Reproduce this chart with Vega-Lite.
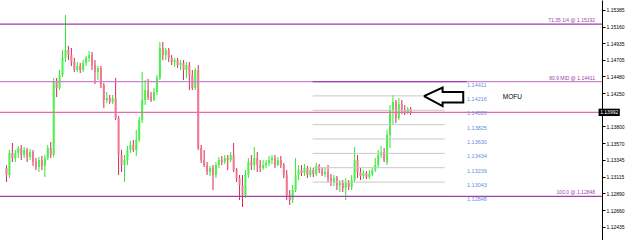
{
  "$schema": "https://vega.github.io/schema/vega-lite/v6.json",
  "width": 602,
  "height": 240,
  "autosize": {"type": "none"},
  "padding": {"left": 0, "top": 0, "right": 23, "bottom": 0},
  "background": "white",
  "config": {
    "view": {"stroke": null},
    "axisX": {"disable": true},
    "axisY": {"grid": false, "domainColor": "#000000", "domainWidth": 1, "tickColor": "#000000", "tickSize": 3, "labelFont": "Liberation Sans", "labelFontSize": 5, "labelColor": "#000000", "labelPadding": 1, "labelOverlap": false, "labelFlush": false, "title": null}
  },
  "datasets": {
    "candles": [
      {"t":0.5,"o":1.13235,"h":1.13275,"l":1.13044,"c":1.13139},
      {"t":1.5,"o":1.13139,"h":1.13479,"l":1.13098,"c":1.13439},
      {"t":2.5,"o":1.13439,"h":1.13575,"l":1.13316,"c":1.13371},
      {"t":3.5,"o":1.13371,"h":1.13479,"l":1.13316,"c":1.13439},
      {"t":4.5,"o":1.13439,"h":1.13534,"l":1.13371,"c":1.13507},
      {"t":5.5,"o":1.13507,"h":1.13548,"l":1.13343,"c":1.13411},
      {"t":6.5,"o":1.13411,"h":1.13520,"l":1.13371,"c":1.13479},
      {"t":7.5,"o":1.13479,"h":1.13507,"l":1.13316,"c":1.13384},
      {"t":8.5,"o":1.13384,"h":1.13493,"l":1.13343,"c":1.13452},
      {"t":9.5,"o":1.13452,"h":1.13479,"l":1.13262,"c":1.13316},
      {"t":10.5,"o":1.13316,"h":1.13371,"l":1.13207,"c":1.13248},
      {"t":11.5,"o":1.13248,"h":1.13384,"l":1.13180,"c":1.13343},
      {"t":12.5,"o":1.13343,"h":1.13398,"l":1.13207,"c":1.13262},
      {"t":13.5,"o":1.13262,"h":1.13411,"l":1.13112,"c":1.13371},
      {"t":14.5,"o":1.13371,"h":1.13548,"l":1.13343,"c":1.13507},
      {"t":15.5,"o":1.13507,"h":1.13588,"l":1.13371,"c":1.13411},
      {"t":16.5,"o":1.13411,"h":1.14459,"l":1.13384,"c":1.14405},
      {"t":17.5,"o":1.14405,"h":1.14459,"l":1.14201,"c":1.14323},
      {"t":18.5,"o":1.14323,"h":1.14568,"l":1.14296,"c":1.14500},
      {"t":19.5,"o":1.14500,"h":1.14840,"l":1.14473,"c":1.14732},
      {"t":20.5,"o":1.14732,"h":1.15317,"l":1.14677,"c":1.14840},
      {"t":21.5,"o":1.14840,"h":1.14895,"l":1.14704,"c":1.14772},
      {"t":22.5,"o":1.14772,"h":1.14868,"l":1.14623,"c":1.14677},
      {"t":23.5,"o":1.14677,"h":1.14732,"l":1.14541,"c":1.14568},
      {"t":24.5,"o":1.14568,"h":1.14677,"l":1.14541,"c":1.14623},
      {"t":25.5,"o":1.14623,"h":1.14664,"l":1.14527,"c":1.14568},
      {"t":26.5,"o":1.14568,"h":1.14704,"l":1.14541,"c":1.14664},
      {"t":27.5,"o":1.14664,"h":1.14759,"l":1.14623,"c":1.14732},
      {"t":28.5,"o":1.14732,"h":1.14827,"l":1.14677,"c":1.14772},
      {"t":29.5,"o":1.14772,"h":1.14813,"l":1.14568,"c":1.14636},
      {"t":30.5,"o":1.14636,"h":1.14704,"l":1.14378,"c":1.14541},
      {"t":31.5,"o":1.14541,"h":1.14623,"l":1.14432,"c":1.14596},
      {"t":32.5,"o":1.14596,"h":1.14623,"l":1.14323,"c":1.14364},
      {"t":33.5,"o":1.14364,"h":1.14391,"l":1.14051,"c":1.14160},
      {"t":34.5,"o":1.14160,"h":1.14269,"l":1.14119,"c":1.14187},
      {"t":35.5,"o":1.14187,"h":1.14228,"l":1.14106,"c":1.14133},
      {"t":36.5,"o":1.14133,"h":1.14228,"l":1.14106,"c":1.14187},
      {"t":37.5,"o":1.14187,"h":1.14459,"l":1.13888,"c":1.13915},
      {"t":38.5,"o":1.13915,"h":1.13942,"l":1.13139,"c":1.13411},
      {"t":39.5,"o":1.13411,"h":1.13479,"l":1.13180,"c":1.13275},
      {"t":40.5,"o":1.13275,"h":1.13411,"l":1.13044,"c":1.13343},
      {"t":41.5,"o":1.13343,"h":1.13534,"l":1.13275,"c":1.13479},
      {"t":42.5,"o":1.13479,"h":1.13602,"l":1.13439,"c":1.13548},
      {"t":43.5,"o":1.13548,"h":1.13616,"l":1.13452,"c":1.13479},
      {"t":44.5,"o":1.13479,"h":1.13752,"l":1.13398,"c":1.13616},
      {"t":45.5,"o":1.13616,"h":1.13929,"l":1.13588,"c":1.13888},
      {"t":46.5,"o":1.13888,"h":1.14541,"l":1.13847,"c":1.14160},
      {"t":47.5,"o":1.14160,"h":1.14432,"l":1.14092,"c":1.14296},
      {"t":48.5,"o":1.14296,"h":1.14446,"l":1.14160,"c":1.14201},
      {"t":49.5,"o":1.14201,"h":1.14269,"l":1.14133,"c":1.14160},
      {"t":50.5,"o":1.14160,"h":1.14323,"l":1.14146,"c":1.14269},
      {"t":51.5,"o":1.14269,"h":1.14500,"l":1.14228,"c":1.14459},
      {"t":52.5,"o":1.14459,"h":1.14949,"l":1.14432,"c":1.14868},
      {"t":53.5,"o":1.14868,"h":1.14949,"l":1.14704,"c":1.14772},
      {"t":54.5,"o":1.14772,"h":1.14868,"l":1.14704,"c":1.14840},
      {"t":55.5,"o":1.14840,"h":1.14868,"l":1.14677,"c":1.14732},
      {"t":56.5,"o":1.14732,"h":1.14772,"l":1.14636,"c":1.14677},
      {"t":57.5,"o":1.14677,"h":1.14732,"l":1.14609,"c":1.14704},
      {"t":58.5,"o":1.14704,"h":1.14732,"l":1.14596,"c":1.14636},
      {"t":59.5,"o":1.14636,"h":1.14704,"l":1.14568,"c":1.14664},
      {"t":60.5,"o":1.14664,"h":1.14704,"l":1.14432,"c":1.14568},
      {"t":61.5,"o":1.14568,"h":1.14677,"l":1.14459,"c":1.14636},
      {"t":62.5,"o":1.14636,"h":1.14677,"l":1.14296,"c":1.14500},
      {"t":63.5,"o":1.14500,"h":1.14568,"l":1.14296,"c":1.14323},
      {"t":64.5,"o":1.14323,"h":1.14596,"l":1.14296,"c":1.14568},
      {"t":65.5,"o":1.14568,"h":1.14636,"l":1.13479,"c":1.13507},
      {"t":66.5,"o":1.13507,"h":1.13548,"l":1.13303,"c":1.13343},
      {"t":67.5,"o":1.13343,"h":1.13479,"l":1.13248,"c":1.13275},
      {"t":68.5,"o":1.13275,"h":1.13316,"l":1.13139,"c":1.13180},
      {"t":69.5,"o":1.13180,"h":1.13262,"l":1.13126,"c":1.13235},
      {"t":70.5,"o":1.13235,"h":1.13275,"l":1.12935,"c":1.13139},
      {"t":71.5,"o":1.13139,"h":1.13316,"l":1.13098,"c":1.13275},
      {"t":72.5,"o":1.13275,"h":1.13384,"l":1.13235,"c":1.13343},
      {"t":73.5,"o":1.13343,"h":1.13398,"l":1.13275,"c":1.13316},
      {"t":74.5,"o":1.13316,"h":1.13411,"l":1.13289,"c":1.13371},
      {"t":75.5,"o":1.13371,"h":1.13411,"l":1.13207,"c":1.13343},
      {"t":76.5,"o":1.13343,"h":1.13452,"l":1.13316,"c":1.13411},
      {"t":77.5,"o":1.13411,"h":1.13575,"l":1.13180,"c":1.13207},
      {"t":78.5,"o":1.13207,"h":1.13235,"l":1.13044,"c":1.13098},
      {"t":79.5,"o":1.13098,"h":1.13139,"l":1.12799,"c":1.13003},
      {"t":80.5,"o":1.13003,"h":1.13139,"l":1.12704,"c":1.12867},
      {"t":81.5,"o":1.12867,"h":1.13207,"l":1.12826,"c":1.13139},
      {"t":82.5,"o":1.13139,"h":1.13371,"l":1.13098,"c":1.13316},
      {"t":83.5,"o":1.13316,"h":1.13411,"l":1.13207,"c":1.13275},
      {"t":84.5,"o":1.13275,"h":1.13520,"l":1.13207,"c":1.13371},
      {"t":85.5,"o":1.13371,"h":1.13452,"l":1.13180,"c":1.13275},
      {"t":86.5,"o":1.13275,"h":1.13343,"l":1.13180,"c":1.13235},
      {"t":87.5,"o":1.13235,"h":1.13343,"l":1.13207,"c":1.13275},
      {"t":88.5,"o":1.13275,"h":1.13343,"l":1.13235,"c":1.13303},
      {"t":89.5,"o":1.13303,"h":1.13398,"l":1.13262,"c":1.13343},
      {"t":90.5,"o":1.13343,"h":1.13411,"l":1.13289,"c":1.13371},
      {"t":91.5,"o":1.13371,"h":1.13411,"l":1.13235,"c":1.13275},
      {"t":92.5,"o":1.13275,"h":1.13384,"l":1.13262,"c":1.13343},
      {"t":93.5,"o":1.13343,"h":1.13398,"l":1.13235,"c":1.13275},
      {"t":94.5,"o":1.13275,"h":1.13303,"l":1.13098,"c":1.13139},
      {"t":95.5,"o":1.13139,"h":1.13207,"l":1.12799,"c":1.12867},
      {"t":96.5,"o":1.12867,"h":1.12935,"l":1.12731,"c":1.12799},
      {"t":97.5,"o":1.12799,"h":1.13003,"l":1.12758,"c":1.12935},
      {"t":98.5,"o":1.12935,"h":1.13371,"l":1.12908,"c":1.13139},
      {"t":99.5,"o":1.13139,"h":1.13275,"l":1.13071,"c":1.13207},
      {"t":100.5,"o":1.13207,"h":1.13275,"l":1.13126,"c":1.13166},
      {"t":101.5,"o":1.13166,"h":1.13289,"l":1.13126,"c":1.13235},
      {"t":102.5,"o":1.13235,"h":1.13262,"l":1.13098,"c":1.13139},
      {"t":103.5,"o":1.13139,"h":1.13248,"l":1.13112,"c":1.13207},
      {"t":104.5,"o":1.13207,"h":1.13235,"l":1.13112,"c":1.13153},
      {"t":105.5,"o":1.13153,"h":1.13303,"l":1.13126,"c":1.13262},
      {"t":106.5,"o":1.13262,"h":1.13289,"l":1.13166,"c":1.13207},
      {"t":107.5,"o":1.13207,"h":1.13248,"l":1.13126,"c":1.13153},
      {"t":108.5,"o":1.13153,"h":1.13235,"l":1.13112,"c":1.13180},
      {"t":109.5,"o":1.13180,"h":1.13275,"l":1.13044,"c":1.13098},
      {"t":110.5,"o":1.13098,"h":1.13153,"l":1.12990,"c":1.13044},
      {"t":111.5,"o":1.13044,"h":1.13139,"l":1.12990,"c":1.13098},
      {"t":112.5,"o":1.13098,"h":1.13126,"l":1.12935,"c":1.13003},
      {"t":113.5,"o":1.13003,"h":1.13071,"l":1.12908,"c":1.13030},
      {"t":114.5,"o":1.13030,"h":1.13071,"l":1.12908,"c":1.12962},
      {"t":115.5,"o":1.12962,"h":1.13098,"l":1.12799,"c":1.13030},
      {"t":116.5,"o":1.13030,"h":1.13071,"l":1.12935,"c":1.12976},
      {"t":117.5,"o":1.12976,"h":1.13139,"l":1.12935,"c":1.13071},
      {"t":118.5,"o":1.13071,"h":1.13520,"l":1.13044,"c":1.13343},
      {"t":119.5,"o":1.13343,"h":1.13411,"l":1.13098,"c":1.13180},
      {"t":120.5,"o":1.13180,"h":1.13235,"l":1.13071,"c":1.13126},
      {"t":121.5,"o":1.13126,"h":1.13207,"l":1.13085,"c":1.13166},
      {"t":122.5,"o":1.13166,"h":1.13194,"l":1.13085,"c":1.13112},
      {"t":123.5,"o":1.13112,"h":1.13207,"l":1.13085,"c":1.13153},
      {"t":124.5,"o":1.13153,"h":1.13235,"l":1.13126,"c":1.13207},
      {"t":125.5,"o":1.13207,"h":1.13371,"l":1.13180,"c":1.13275},
      {"t":126.5,"o":1.13275,"h":1.13479,"l":1.13235,"c":1.13411},
      {"t":127.5,"o":1.13411,"h":1.13534,"l":1.13371,"c":1.13452},
      {"t":128.5,"o":1.13452,"h":1.13507,"l":1.13316,"c":1.13343},
      {"t":129.5,"o":1.13316,"h":1.13752,"l":1.13275,"c":1.13684},
      {"t":130.5,"o":1.13684,"h":1.14092,"l":1.13507,"c":1.14024},
      {"t":131.5,"o":1.14024,"h":1.14228,"l":1.13820,"c":1.14133},
      {"t":132.5,"o":1.14133,"h":1.14160,"l":1.13847,"c":1.13915},
      {"t":133.5,"o":1.13915,"h":1.14187,"l":1.13888,"c":1.14106},
      {"t":134.5,"o":1.14106,"h":1.14160,"l":1.13969,"c":1.14024},
      {"t":135.5,"o":1.14024,"h":1.14092,"l":1.13956,"c":1.13997},
      {"t":136.5,"o":1.13997,"h":1.14065,"l":1.13969,"c":1.14038},
      {"t":137.5,"o":1.14038,"h":1.14065,"l":1.13956,"c":1.13992}
    ],
    "levels": [
      {"name": "71.35 1/4", "p": 1.15192, "label": "71.35 1/4 @ 1.15192"},
      {"name": "80.9 MID", "p": 1.14411, "label": "80.9 MID @ 1.14411"},
      {"name": "100.0", "p": 1.12848, "label": "100.0 @ 1.12848"},
      {"name": "price", "p": 1.13992, "label": ""}
    ],
    "fib": [
      {"p": 1.14411}, {"p": 1.14216}, {"p": 1.14020}, {"p": 1.13825}, {"p": 1.13630},
      {"p": 1.13434}, {"p": 1.13239}, {"p": 1.13043}, {"p": 1.12848}
    ],
    "arrow": [
      {"k": 0, "t": 142.0, "p": 1.14214},
      {"k": 1, "t": 148.33, "p": 1.14330},
      {"k": 2, "t": 148.33, "p": 1.14269},
      {"k": 3, "t": 155.33, "p": 1.14269},
      {"k": 4, "t": 155.33, "p": 1.14126},
      {"k": 5, "t": 148.33, "p": 1.14126},
      {"k": 6, "t": 148.33, "p": 1.14078},
      {"k": 7, "t": 142.0, "p": 1.14214}
    ]
  },
  "layer": [
    {
      "data": {"name": "candles"},
      "mark": {"type": "rule", "strokeWidth": 1},
      "encoding": {
        "x": {"field": "t", "type": "quantitative", "scale": {"domain": [0, 200.667], "nice": false, "zero": false}, "axis": null},
        "y": {"field": "l", "type": "quantitative", "title": null,
              "scale": {"domain": [1.12255, 1.15521], "nice": false, "zero": false},
              "axis": {"orient": "right", "format": ".5f", "tickCount": 30, "labelOverlap": false, "labelFlush": false, "values": [1.15385, 1.1516, 1.14935, 1.14705, 1.1448, 1.1425, 1.138, 1.1357, 1.13345, 1.13115, 1.1289, 1.1266, 1.12435]}},
        "y2": {"field": "h"},
        "color": {"condition": {"test": "datum.c >= datum.o", "value": "#2ee82e"}, "value": "#d8285a"}
      }
    },
    {
      "data": {"name": "candles"},
      "mark": {"type": "bar", "size": 2},
      "encoding": {
        "x": {"field": "t", "type": "quantitative"},
        "y": {"field": "o", "type": "quantitative", "title": null},
        "y2": {"field": "c"},
        "color": {"condition": {"test": "datum.c >= datum.o", "value": "#4cf04c"}, "value": "#ee7890"}
      }
    },
    {
      "data": {"name": "fib"},
      "mark": {"type": "rule", "strokeWidth": 1, "color": "#c8c8c8"},
      "encoding": {
        "x": {"datum": 104.3},
        "x2": {"datum": 149.0},
        "y": {"field": "p", "type": "quantitative", "title": null}
      }
    },
    {
      "data": {"name": "levels"},
      "mark": {"type": "rule", "strokeWidth": 1.3},
      "encoding": {
        "y": {"field": "p", "type": "quantitative", "title": null},
        "color": {"field": "name", "type": "nominal", "legend": null,
                  "scale": {"domain": ["71.35 1/4", "80.9 MID", "100.0", "price"], "range": ["#9c3fa6", "#c985c9", "#a040a8", "#e86aa8"]}}
      }
    },
    {
      "data": {"values": [{"p": 1.14411}]},
      "mark": {"type": "rule", "strokeWidth": 1.3, "color": "#a040a8"},
      "encoding": {
        "x": {"datum": 104.3},
        "x2": {"datum": 156.5},
        "y": {"field": "p", "type": "quantitative", "title": null}
      }
    },
    {
      "data": {"name": "levels"},
      "mark": {"type": "text", "align": "right", "baseline": "bottom", "dy": -1, "font": "Liberation Sans", "fontSize": 5, "color": "#9c3fa6"},
      "encoding": {
        "x": {"datum": 200},
        "y": {"field": "p", "type": "quantitative", "title": null},
        "text": {"field": "label"}
      }
    },
    {
      "data": {"name": "fib"},
      "mark": {"type": "text", "align": "left", "baseline": "middle", "dy": 3, "font": "Liberation Sans", "fontSize": 5.5, "color": "#6a8de0"},
      "encoding": {
        "x": {"datum": 156.6},
        "y": {"field": "p", "type": "quantitative", "title": null},
        "text": {"field": "p", "type": "quantitative", "format": ".5f"}
      }
    },
    {
      "data": {"name": "arrow"},
      "mark": {"type": "line", "color": "#000000", "strokeWidth": 2, "fill": "white", "strokeJoin": "miter"},
      "encoding": {
        "x": {"field": "t", "type": "quantitative"},
        "y": {"field": "p", "type": "quantitative", "title": null},
        "order": {"field": "k"}
      }
    },
    {
      "data": {"values": [{"t": 172, "p": 1.14201, "txt": "MOFU"}]},
      "mark": {"type": "text", "align": "center", "baseline": "middle", "font": "Liberation Sans", "fontSize": 6.5, "color": "#000000"},
      "encoding": {
        "x": {"field": "t", "type": "quantitative"},
        "y": {"field": "p", "type": "quantitative", "title": null},
        "text": {"field": "txt"}
      }
    },
    {
      "data": {"values": [{"p": 1.13992}]},
      "mark": {"type": "rect", "color": "#000000"},
      "encoding": {
        "x": {"datum": 201.2},
        "x2": {"datum": 208.4},
        "y": {"datum": 1.14042},
        "y2": {"datum": 1.13942}
      }
    },
    {
      "data": {"values": [{"p": 1.13992}]},
      "mark": {"type": "text", "align": "center", "baseline": "middle", "font": "Liberation Sans", "fontSize": 5, "color": "#ffffff"},
      "encoding": {
        "x": {"datum": 204.8},
        "y": {"field": "p", "type": "quantitative", "title": null},
        "text": {"field": "p", "type": "quantitative", "format": ".5f"}
      }
    }
  ]
}
